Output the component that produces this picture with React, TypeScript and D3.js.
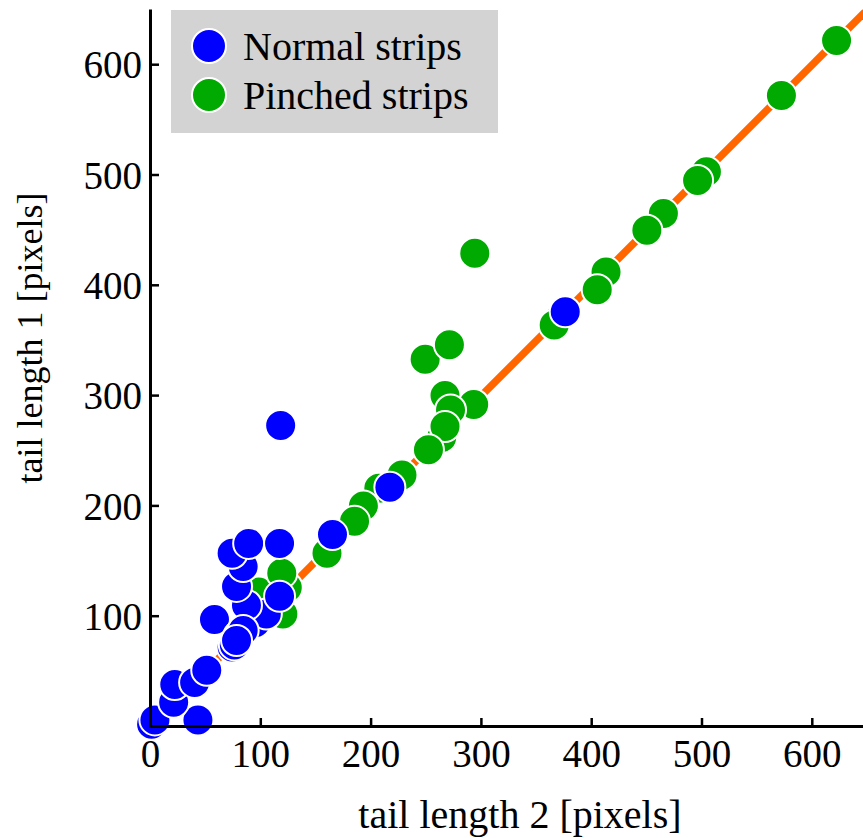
import React from "react";
import * as d3 from "d3";

const normalX = [1, 4, 43, 21, 22, 40, 51, 58, 95, 105, 87, 74, 76, 80, 82, 84, 78, 78, 117, 84, 74, 89, 117, 165, 217, 118, 376];
const normalY = [2, 6, 6, 22, 38, 40, 51, 97, 94, 102, 110, 72, 74, 82, 84, 87, 127, 78, 118, 145, 157, 166, 166, 174, 217, 273, 376];

const pinchedX = [622, 572, 504, 496, 465, 450, 413, 405, 368, 366, 294, 249, 271, 267, 293, 272, 264, 267, 252, 228, 207, 193, 185, 160, 98, 124, 120, 119];
const pinchedY = [622, 572, 503, 495, 465, 450, 412, 396, 367, 364, 429, 333, 346, 300, 292, 287, 262, 272, 251, 228, 216, 200, 186, 157, 122, 126, 102, 139];

const xTicks = [0, 100, 200, 300, 400, 500, 600];
const yTicks = [100, 200, 300, 400, 500, 600];
const seriesNames = ["Normal strips", "Pinched strips"];
const seriesColors = ["#0000ff", "#00aa00"];
const xLabel = "tail length 2 [pixels]";
const yLabel = "tail length 1 [pixels]";
const lineDomain = [0, 650];

export default function App() {
  const W = 863, H = 838;
  const x = d3.scaleLinear().domain([0, 650]).range([150.5, 150.5 + 650 * 1.103]);
  const y = d3.scaleLinear().domain([0, 650]).range([726.5, 726.5 - 650 * 1.103]);
  const font = "Liberation Serif";
  const r = 15.5;
  const line = d3.line<number>().x((d) => x(d)).y((d) => y(d));
  const normal = normalX.map((v, i) => [v, normalY[i]]);
  const pinched = pinchedX.map((v, i) => [v, pinchedY[i]]);
  return (
    <div style={{ position: "absolute", left: 0, top: 0 }}>
      <svg width={W} height={H} style={{ display: "block", background: "#fff" }}>
        <defs>
          <clipPath id="plotclip">
            <rect x={150.5} y={9.5} width={W - 150.5} height={717} />
          </clipPath>
        </defs>
        <g clipPath="url(#plotclip)">
          <path d={line(lineDomain) || ""} stroke="#ff6600" strokeWidth={7.5} fill="none" />
        </g>
        <g>
          {pinched.map((p, i) => (
            <circle key={"g" + i} cx={x(p[0])} cy={y(p[1])} r={r} fill={seriesColors[1]} stroke="#fff" strokeWidth={2} />
          ))}
          {normal.map((p, i) => (
            <circle key={"b" + i} cx={x(p[0])} cy={y(p[1])} r={r} fill={seriesColors[0]} stroke="#fff" strokeWidth={2} />
          ))}
        </g>
        <line x1={150.5} x2={150.5} y1={9.5} y2={728} stroke="#000" strokeWidth={3} />
        <line x1={149} x2={W} y1={726.5} y2={726.5} stroke="#000" strokeWidth={3} />
        {xTicks.map((t) => (
          <g key={"xt" + t}>
            {t > 0 && <line x1={x(t)} x2={x(t)} y1={726.5} y2={718} stroke="#000" strokeWidth={2.5} />}
            <text x={x(t)} y={767} textAnchor="middle" fontFamily={font} fontSize={39} fill="#000">{t}</text>
          </g>
        ))}
        {yTicks.map((t) => (
          <g key={"yt" + t}>
            <line x1={150.5} x2={159} y1={y(t)} y2={y(t)} stroke="#000" strokeWidth={2.5} />
            <text x={142} y={y(t)} dy="0.35em" textAnchor="end" fontFamily={font} fontSize={39} fill="#000">{t}</text>
          </g>
        ))}
        <text x={520} y={828} textAnchor="middle" fontFamily={font} fontSize={40} fill="#000">{xLabel}</text>
        <text transform={`translate(42,338) rotate(-90)`} textAnchor="middle" fontFamily={font} fontSize={36} fill="#000">{yLabel}</text>
        <rect x={171} y={10} width={327} height={123} fill="#d3d3d3" />
        {seriesNames.map((n, i) => (
          <g key={n}>
            <circle cx={209} cy={46 + i * 49} r={17} fill={seriesColors[i]} stroke="#fff" strokeWidth={2} />
            <text x={243} y={59.5 + i * 49} fontFamily={font} fontSize={40} fill="#000">{n}</text>
          </g>
        ))}
      </svg>
    </div>
  );
}
